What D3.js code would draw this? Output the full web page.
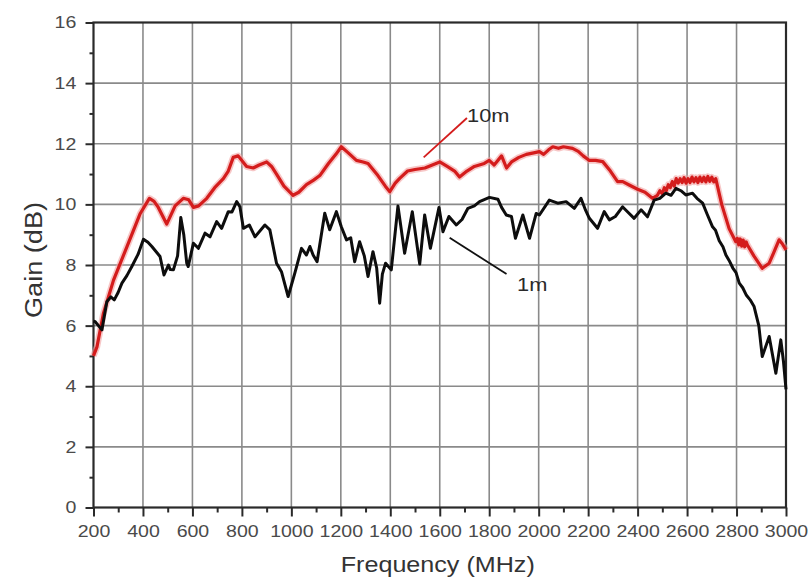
<!DOCTYPE html>
<html>
<head>
<meta charset="utf-8">
<script src="https://cdn.jsdelivr.net/npm/d3@7"></script>
<style>
  html, body { margin: 0; padding: 0; background: #fff; }
  svg { display: block; font-family: "Liberation Sans", Arial, sans-serif; }
</style>
</head>
<body>
<svg id="chart" width="811" height="579"></svg>
<script>
// Measured antenna gain versus frequency at two distances.
const freq10m = [200,214,240,281,335,389,426,445,462,496,530,563,585,604,625,658,690,725,745,765,785,819,846,870,900,920,940,970,1007,1030,1061,1090,1115,1150,1180,1202,1230,1263,1290,1310,1350,1380,1398,1420,1438,1470,1500,1540,1570,1600,1630,1660,1680,1710,1740,1780,1800,1820,1850,1870,1890,1920,1950,1980,2003,2020,2040,2057,2080,2100,2137,2160,2180,2205,2230,2259,2290,2319,2340,2366,2400,2430,2460,2480,2490,2500,2508,2516,2524,2532,2540,2548,2556,2564,2572,2580,2588,2596,2604,2612,2620,2628,2636,2644,2652,2660,2668,2676,2684,2692,2700,2708,2716,2740,2770,2797,2803,2809,2815,2821,2827,2833,2839,2844,2870,2904,2932,2950,2972,2985,3000];
const gain10m = [5.0,5.3,6.4,7.5,8.6,9.7,10.2,10.1,9.9,9.35,9.95,10.2,10.15,9.9,9.95,10.2,10.55,10.85,11.1,11.55,11.6,11.25,11.2,11.3,11.4,11.25,11.0,10.6,10.3,10.4,10.65,10.8,10.95,11.35,11.65,11.9,11.7,11.45,11.4,11.35,10.95,10.6,10.42,10.7,10.86,11.1,11.15,11.2,11.3,11.4,11.25,11.1,10.9,11.1,11.25,11.35,11.45,11.3,11.6,11.2,11.4,11.55,11.65,11.7,11.74,11.65,11.8,11.9,11.85,11.9,11.85,11.75,11.6,11.45,11.45,11.41,11.1,10.75,10.75,10.64,10.5,10.4,10.2,10.3,10.45,10.35,10.55,10.45,10.65,10.55,10.75,10.6,10.85,10.7,10.85,10.72,10.88,10.7,10.85,10.72,10.9,10.74,10.88,10.72,10.9,10.75,10.9,10.74,10.92,10.76,10.9,10.74,10.85,10.0,9.2,8.77,8.88,8.66,8.86,8.62,8.82,8.6,8.76,8.66,8.3,7.89,8.06,8.4,8.83,8.7,8.5];

const freq1m = [200,207,220,234,254,270,284,300,315,335,355,380,402,420,436,469,485,503,510,523,540,553,565,577,583,604,624,651,671,698,718,745,760,779,792,806,830,853,893,913,940,960,987,1014,1041,1061,1075,1088,1104,1135,1155,1182,1202,1223,1240,1256,1276,1295,1310,1330,1345,1357,1368,1381,1404,1431,1458,1489,1519,1539,1562,1597,1613,1637,1667,1690,1714,1740,1761,1801,1835,1850,1869,1890,1906,1936,1963,1990,2003,2043,2077,2111,2144,2171,2190,2205,2238,2265,2286,2310,2339,2360,2386,2414,2440,2467,2490,2514,2535,2555,2575,2595,2622,2640,2663,2680,2703,2715,2730,2745,2757,2770,2785,2798,2811,2825,2840,2855,2871,2890,2904,2932,2959,2979,2990,3000];
const gain1m = [6.15,6.13,6.0,5.86,6.79,6.95,6.85,7.1,7.4,7.65,7.95,8.35,8.85,8.75,8.61,8.28,7.67,8.0,7.85,7.84,8.3,9.57,9.0,8.06,7.95,8.72,8.55,9.05,8.93,9.43,9.21,9.76,9.75,10.09,9.92,9.21,9.32,8.93,9.32,9.16,8.06,7.78,6.96,7.73,8.55,8.33,8.61,8.33,8.11,9.71,9.16,9.76,9.26,8.83,8.9,8.11,8.77,8.3,7.62,8.44,7.9,6.74,7.7,8.06,7.84,9.95,8.39,9.76,8.03,9.65,8.55,9.9,9.1,9.6,9.32,9.5,9.87,9.95,10.09,10.23,10.17,9.9,9.65,9.6,8.88,9.65,8.88,9.7,9.65,10.14,10.04,10.09,9.87,10.2,9.8,9.54,9.21,9.76,9.49,9.6,9.92,9.75,9.54,9.82,9.59,10.14,10.2,10.37,10.3,10.53,10.45,10.31,10.37,10.2,10.04,9.7,9.26,9.15,8.8,8.6,8.33,8.15,7.9,7.75,7.4,7.25,7.0,6.85,6.63,6.0,4.98,5.64,4.43,5.53,4.8,3.9];

const xMajorTicks = [200,400,600,800,1000,1200,1400,1600,1800,2000,2200,2400,2600,2800,3000];
const xMinorTicks = [300,500,700,900,1100,1300,1500,1700,1900,2100,2300,2500,2700,2900];
const yMajorTicks = [0,2,4,6,8,10,12,14,16];
const yMinorTicks = [1,3,5,7,9,11,13,15];

const seriesLabels = ["10m", "1m"];
const xTitle = "Frequency (MHz)";
const yTitle = "Gain (dB)";

const svg = d3.select("#chart");
const plotLeft = 93.5, plotRight = 786, plotTop = 22.5, plotBottom = 507.5;

const x = d3.scaleLinear().domain([200, 3000]).range([plotLeft, plotRight]);
const y = d3.scaleLinear().domain([0, 16]).range([plotBottom, plotTop]);

const textStretch = "scale(1.15,1)";

// grid
const grid = svg.append("g").attr("stroke", "#8a8a8a").attr("stroke-width", 1.6);
grid.selectAll("line.v").data(xMajorTicks.slice(1, -1)).join("line")
  .attr("x1", d => x(d)).attr("x2", d => x(d)).attr("y1", plotTop).attr("y2", plotBottom);
grid.selectAll("line.h").data(yMajorTicks.slice(1, -1)).join("line")
  .attr("y1", d => y(d)).attr("y2", d => y(d)).attr("x1", plotLeft).attr("x2", plotRight);

// axes
svg.append("g").attr("transform", `translate(0,${plotBottom})`)
  .call(d3.axisBottom(x).tickValues(xMajorTicks).tickSize(9).tickPadding(8).tickFormat(d3.format("d")));
svg.append("g").attr("transform", `translate(0,${plotBottom})`)
  .call(d3.axisBottom(x).tickValues(xMinorTicks).tickSize(5).tickFormat(""));
svg.append("g").attr("transform", `translate(${plotLeft},0)`)
  .call(d3.axisLeft(y).tickValues(yMajorTicks).tickSize(8).tickPadding(7).tickFormat(d3.format("d")));
svg.append("g").attr("transform", `translate(${plotLeft},0)`)
  .call(d3.axisLeft(y).tickValues(yMinorTicks).tickSize(4).tickFormat(""));

svg.selectAll(".domain").remove();
svg.selectAll(".tick line").attr("stroke", "#2a2a2a").attr("stroke-width", 2);
svg.selectAll(".tick text")
  .attr("font-family", "Liberation Sans, Arial, sans-serif")
  .attr("font-size", 17).attr("fill", "#4a4a4a")
  .attr("transform", textStretch);

// frame
svg.append("rect")
  .attr("x", plotLeft).attr("y", plotTop).attr("width", plotRight - plotLeft).attr("height", plotBottom - plotTop)
  .attr("fill", "none").attr("stroke", "#2a2a2a").attr("stroke-width", 2.2);

// series
const line = d3.line().x(d => x(d[0])).y(d => y(d[1]));
const data10m = d3.zip(freq10m, gain10m);
const data1m = d3.zip(freq1m, gain1m);

svg.append("path").datum(data10m).attr("d", line)
  .attr("fill", "none").attr("stroke", "#f2a2a2").attr("stroke-width", 6.5)
  .attr("stroke-linejoin", "round").attr("opacity", 0.6);
svg.append("path").datum(data10m).attr("d", line)
  .attr("fill", "none").attr("stroke", "#d41c1c").attr("stroke-width", 3.2)
  .attr("stroke-linejoin", "round");
svg.append("path").datum(data1m).attr("d", line)
  .attr("fill", "none").attr("stroke", "#0d0d0d").attr("stroke-width", 3)
  .attr("stroke-linejoin", "round");

// leader lines and series labels
svg.append("line")
  .attr("x1", x(1535)).attr("y1", y(11.55)).attr("x2", x(1710)).attr("y2", y(12.85))
  .attr("stroke", "#d41c1c").attr("stroke-width", 1.8);
svg.append("text")
  .attr("transform", `translate(467,122) ${textStretch}`)
  .attr("font-size", 19).attr("fill", "#2a2a2a").text(seriesLabels[0]);

svg.append("line")
  .attr("x1", x(1640)).attr("y1", y(8.9)).attr("x2", x(1870)).attr("y2", y(7.7))
  .attr("stroke", "#111").attr("stroke-width", 1.8);
svg.append("text")
  .attr("transform", `translate(517,291) ${textStretch}`)
  .attr("font-size", 19).attr("fill", "#2a2a2a").text(seriesLabels[1]);

// axis titles
svg.append("text")
  .attr("x", (plotLeft + plotRight) / 2 - 2).attr("y", 572)
  .attr("text-anchor", "middle").attr("font-size", 22).attr("fill", "#333")
  .attr("textLength", 194).attr("lengthAdjust", "spacingAndGlyphs")
  .text(xTitle);
svg.append("text")
  .attr("transform", `translate(42,260) rotate(-90)`)
  .attr("text-anchor", "middle").attr("font-size", 23).attr("fill", "#333")
  .attr("textLength", 116).attr("lengthAdjust", "spacingAndGlyphs")
  .text(yTitle);
</script>
</body>
</html>
